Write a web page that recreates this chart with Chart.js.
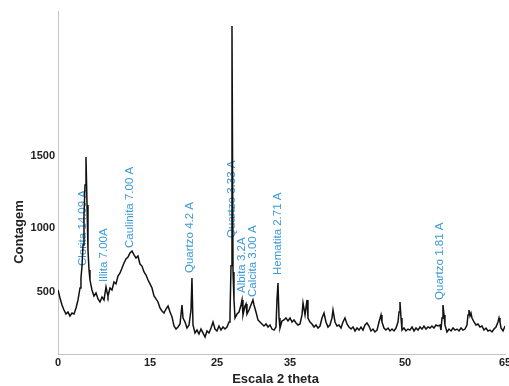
<!DOCTYPE html>
<html>
<head>
<meta charset="utf-8">
<script src="https://cdn.jsdelivr.net/npm/chart.js@4.4.1/dist/chart.umd.min.js"></script>
<style>
  html, body { margin: 0; padding: 0; background: #fff; }
</style>
</head>
<body>
<canvas id="chart" width="509" height="386"></canvas>
<script>
// diffractogram trace
const twoTheta = [
  0, 0.29, 0.58, 0.87, 1.16, 1.45, 1.74, 2.04, 2.33, 2.62,
  2.91, 3.2, 3.34, 3.49, 3.64, 3.78, 3.93, 4.07, 4.22, 4.36,
  4.51, 4.65, 4.94, 5.23, 5.53, 5.82, 6.11, 6.4, 6.69, 6.98,
  7.13, 7.27, 7.56, 7.85, 8.14, 8.43, 8.72, 9.02, 9.31, 9.6,
  9.89, 10.18, 10.47, 10.76, 11.05, 11.34, 11.63, 11.92, 12.21, 12.51,
  12.8, 13.09, 13.38, 13.67, 13.96, 14.25, 14.54, 14.83, 15.12, 15.41,
  15.7, 16.0, 16.29, 16.58, 16.87, 17.16, 17.45, 17.74, 18.03, 18.18,
  18.47, 18.76, 19.05, 19.34, 19.48, 19.63, 19.92, 20.21, 20.5, 20.79,
  21.08, 21.38, 21.67, 21.96, 22.25, 22.54, 22.83, 23.12, 23.41, 23.7,
  23.99, 24.28, 24.57, 24.87, 25.01, 25.16, 25.3, 25.45, 25.59, 25.74,
  26.03, 26.32, 26.61, 26.76, 26.9, 27.19, 27.34, 27.48, 27.77, 28.06,
  28.35, 28.5, 28.79, 29.08, 29.37, 29.66, 29.95, 30.25, 30.54, 30.83,
  31.12, 31.41, 31.7, 31.84, 31.99, 32.14, 32.28, 32.57, 32.86, 33.15,
  33.44, 33.74, 34.03, 34.32, 34.61, 34.9, 35.19, 35.48, 35.63, 35.92,
  36.21, 36.35, 36.64, 36.93, 37.23, 37.52, 37.81, 38.1, 38.39, 38.68,
  38.97, 39.26, 39.55, 39.84, 39.99, 40.28, 40.57, 40.86, 41.15, 41.44,
  41.73, 42.02, 42.31, 42.61, 42.9, 43.19, 43.48, 43.77, 44.06, 44.35,
  44.64, 44.93, 45.22, 45.51, 45.8, 46.09, 46.39, 46.68, 46.97, 47.11,
  47.4, 47.69, 47.99, 48.28, 48.57, 48.86, 49.15, 49.44, 49.59, 49.73,
  49.88, 50.02, 50.31, 50.6, 50.89, 51.18, 51.48, 51.77, 52.06, 52.35,
  52.64, 52.93, 53.22, 53.51, 53.8, 54.09, 54.38, 54.67, 54.96, 55.26,
  55.55, 55.69, 55.84, 55.98, 56.13, 56.27, 56.56, 56.86, 57.15, 57.44,
  57.73, 58.02, 58.31, 58.6, 58.89, 59.18, 59.47, 59.62, 59.76, 59.91,
  60.05, 60.2, 60.49, 60.78, 61.07, 61.36, 61.65, 61.94, 62.24, 62.53,
  62.82, 63.11, 63.4, 63.69, 63.98, 64.13, 64.27, 64.42, 64.71, 65.0
];
const counts = [
  508, 444, 389, 349, 317, 333, 302, 325, 317, 365,
  429, 524, 603, 698, 865, 1103, 1341, 1564, 1183, 825,
  667, 587, 508, 460, 484, 437, 413, 452, 429, 532,
  492, 460, 524, 508, 571, 556, 619, 643, 683, 722,
  754, 770, 802, 818, 786, 762, 778, 714, 698, 651,
  627, 587, 556, 524, 460, 437, 413, 365, 341, 325,
  357, 381, 333, 294, 222, 198, 214, 238, 389, 286,
  254, 206, 230, 349, 603, 230, 167, 190, 159, 198,
  167, 135, 183, 167, 206, 254, 198, 183, 222, 190,
  214, 198, 214, 254, 310, 700, 2603, 650, 429, 286,
  317, 333, 389, 429, 310, 381, 397, 317, 349, 389,
  429, 389, 333, 270, 254, 238, 222, 238, 214, 230,
  198, 190, 214, 429, 564, 286, 206, 262, 270, 286,
  262, 286, 254, 270, 246, 230, 238, 310, 405, 310,
  429, 286, 254, 238, 214, 230, 206, 222, 286, 325,
  254, 214, 230, 286, 349, 254, 222, 230, 206, 254,
  286, 238, 214, 198, 214, 183, 206, 190, 214, 190,
  230, 246, 222, 183, 198, 175, 190, 254, 310, 254,
  206, 190, 206, 183, 198, 183, 206, 254, 333, 413,
  286, 190, 206, 183, 198, 190, 214, 183, 206, 190,
  214, 198, 222, 198, 214, 206, 222, 206, 230, 222,
  230, 190, 286, 389, 310, 230, 175, 198, 183, 206,
  190, 198, 183, 206, 190, 198, 230, 310, 349, 302,
  325, 286, 254, 230, 238, 214, 222, 190, 206, 183,
  190, 175, 198, 214, 254, 286, 254, 206, 183, 222
];

// the printed tick labels sit at uneven spots along the axes
const xTickValues = [0, 13.38, 23.12, 33.74, 50.46, 65];
const xTickLabels = ['0', '15', '25', '35', '50', '65'];
const yTickValues = [495, 1000, 1570];
const yTickLabels = ['500', '1000', '1500'];

// mineral labels: text foot at (x, y)
const peakNames = ['Clorita 14.09 A', 'Illita 7.00A', 'Caulinita 7.00 A', 'Quartzo 4.2 A',
  'Quartzo 3.33 A', 'Albita 3.2A', 'Calcita 3.00 A', 'Hematita 2.71 A', 'Quartzo 1.81 A'];
const peakX = [3.64, 6.69, 10.47, 19.19, 25.3, 26.76, 28.35, 31.99, 55.55];
const peakY = [698, 571, 841, 643, 921, 484, 452, 627, 429];

const FONT = "'Liberation Sans', Arial, sans-serif";

const peakLabels = {
  id: 'peakLabels',
  beforeDatasetsDraw(chart) {
    const { ctx, scales: { x, y } } = chart;
    ctx.save();
    ctx.fillStyle = '#3c9ad6';
    ctx.font = '11.5px ' + FONT;
    ctx.textAlign = 'left';
    ctx.textBaseline = 'middle';
    peakNames.forEach((name, i) => {
      ctx.save();
      ctx.translate(x.getPixelForValue(peakX[i]), y.getPixelForValue(peakY[i]));
      ctx.rotate(-Math.PI / 2);
      ctx.fillText(name, 0, 0);
      ctx.restore();
    });
    ctx.restore();
  },
};

const axisTitles = {
  id: 'axisTitles',
  afterDraw(chart) {
    const { ctx, chartArea } = chart;
    ctx.save();
    ctx.fillStyle = '#222';
    ctx.font = 'bold 13px ' + FONT;
    ctx.textAlign = 'center';
    ctx.textBaseline = 'middle';
    ctx.fillText('Escala 2 theta', (chartArea.left + chartArea.right) / 2 - 6, 379);
    ctx.translate(19, 232);
    ctx.rotate(-Math.PI / 2);
    ctx.fillText('Contagem', 0, 0);
    ctx.restore();
  },
};

new Chart(document.getElementById('chart'), {
  type: 'line',
  data: {
    datasets: [{
      data: twoTheta.map((t, i) => ({ x: t, y: counts[i] })),
      borderColor: '#111',
      borderWidth: 1.5,
      pointRadius: 0,
      tension: 0,
      fill: false,
    }],
  },
  options: {
    responsive: false,
    animation: false,
    devicePixelRatio: 1,
    layout: { padding: { left: 0, top: 11, right: 4, bottom: 0 } },
    plugins: { legend: { display: false }, tooltip: { enabled: false } },
    scales: {
      x: {
        type: 'linear',
        min: 0,
        max: 65,
        grid: { display: false, drawTicks: false },
        border: { display: true, color: '#c4c4c4', width: 1 },
        afterBuildTicks: (scale) => { scale.ticks = xTickValues.map((v) => ({ value: v })); },
        afterFit: (scale) => { scale.height = 32; scale.paddingLeft = 0; scale.paddingRight = 0; },
        ticks: {
          autoSkip: false,
          maxRotation: 0,
          padding: 2,
          color: '#222',
          font: { family: FONT, size: 11, weight: 'bold' },
          callback: (v, i) => xTickLabels[i],
        },
      },
      y: {
        type: 'linear',
        min: 0,
        max: 2722,
        grid: { display: false, drawTicks: false },
        border: { display: true, color: '#c4c4c4', width: 1 },
        afterBuildTicks: (scale) => { scale.ticks = yTickValues.map((v) => ({ value: v })); },
        afterFit: (scale) => { scale.width = 58; },
        ticks: {
          padding: 3,
          color: '#222',
          font: { family: FONT, size: 11, weight: 'bold' },
          callback: (v, i) => yTickLabels[i],
        },
      },
    },
  },
  plugins: [peakLabels, axisTitles],
});
</script>
</body>
</html>
